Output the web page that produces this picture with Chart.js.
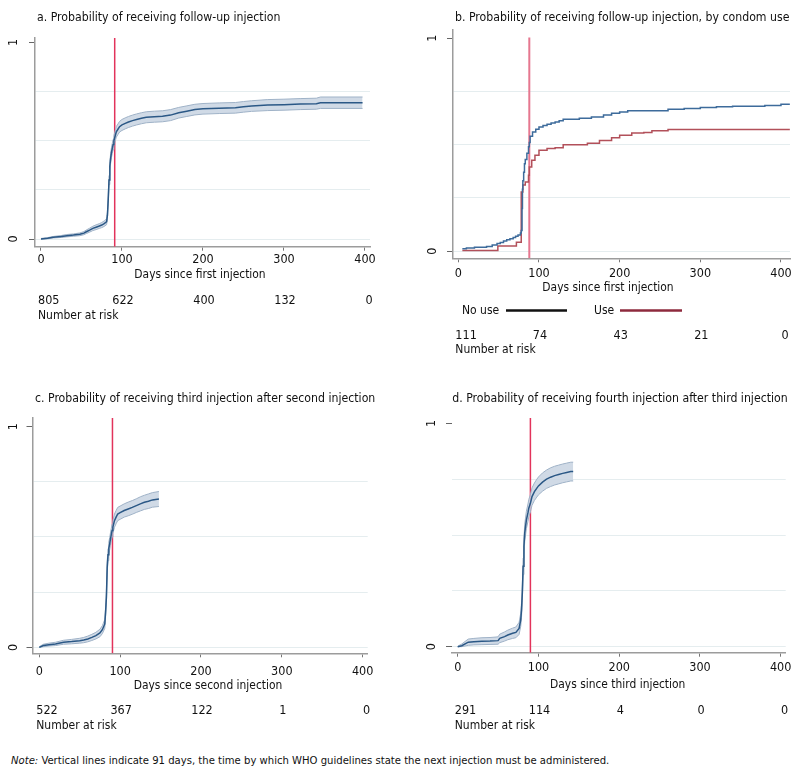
<!DOCTYPE html>
<html>
<head>
<meta charset="utf-8">
<script src="https://cdn.jsdelivr.net/npm/chart.js@4.4.1/dist/chart.umd.min.js"></script>
<style>
html,body{margin:0;padding:0;background:#fff;}
body{width:800px;height:779px;position:relative;overflow:hidden;font-family:'Liberation Sans Narrow','DejaVu Sans Condensed',sans-serif;}
canvas{position:absolute;}
#note{position:absolute;left:11px;top:754px;font-size:11.2px;color:#111;white-space:nowrap;line-height:14px;}
</style>
</head>
<body>
<canvas id="ca" width="400" height="330" style="left:0;top:0;width:400px;height:330px"></canvas>
<canvas id="cb" width="400" height="370" style="left:400px;top:0;width:400px;height:370px"></canvas>
<canvas id="cc" width="400" height="360" style="left:0;top:380px;width:400px;height:360px"></canvas>
<canvas id="cd" width="400" height="360" style="left:400px;top:380px;width:400px;height:360px"></canvas>
<div id="note"><i>Note:</i> Vertical lines indicate 91 days, the time by which WHO guidelines state the next injection must be administered.</div>
<script>
// ================= DATA =================
const xTicks = [0, 100, 200, 300, 400];
const yTicks = [0, 0.25, 0.5, 0.75, 1];
const yLabelValues = [0, 1];
const yLabelTexts = ['0', '1'];
const riskDays = [0, 100, 200, 300, 400];
const guideDays = [91, 88, 90.5, 90];

const panelTitles = [
  'a. Probability of receiving follow-up injection',
  'b. Probability of receiving follow-up injection, by condom use',
  'c. Probability of receiving third injection after second injection',
  'd. Probability of receiving fourth injection after third injection'
];
const axisTitles = [
  'Days since first injection',
  'Days since first injection',
  'Days since second injection',
  'Days since third injection'
];
const riskLabel = 'Number at risk';
const riskA = [805, 622, 400, 132, 0];
const riskB = [111, 74, 43, 21, 0];
const riskC = [522, 367, 122, 1, 0];
const riskD = [291, 114, 4, 0, 0];
const legendLabels = ['No use', 'Use'];

// Panel a
const daysA = [0, 8, 15, 25, 32, 40, 48, 53, 56, 60, 64, 68, 72, 75, 78, 81, 82, 83, 84, 85, 86, 87, 88, 89, 90, 91, 92, 93, 95, 97, 100, 104, 108, 113, 118, 124, 130, 140, 150, 160, 170, 180, 190, 200, 220, 240, 250, 260, 280, 300, 320, 340, 345, 397];
const estA = [0, 0.004, 0.009, 0.013, 0.017, 0.02, 0.024, 0.03, 0.037, 0.045, 0.054, 0.06, 0.066, 0.071, 0.078, 0.088, 0.12, 0.2, 0.3, 0.37, 0.41, 0.44, 0.46, 0.48, 0.5, 0.515, 0.53, 0.545, 0.558, 0.571, 0.58, 0.588, 0.595, 0.602, 0.608, 0.614, 0.619, 0.622, 0.624, 0.63, 0.642, 0.65, 0.658, 0.662, 0.665, 0.667, 0.672, 0.676, 0.681, 0.683, 0.686, 0.688, 0.693, 0.693];
const loA = [0, 0.001, 0.005, 0.008, 0.011, 0.014, 0.017, 0.022, 0.028, 0.035, 0.043, 0.048, 0.054, 0.058, 0.064, 0.073, 0.103, 0.18, 0.277, 0.346, 0.385, 0.415, 0.434, 0.454, 0.473, 0.488, 0.503, 0.518, 0.531, 0.544, 0.552, 0.56, 0.567, 0.574, 0.58, 0.586, 0.591, 0.594, 0.596, 0.602, 0.615, 0.623, 0.631, 0.635, 0.638, 0.64, 0.645, 0.649, 0.653, 0.655, 0.658, 0.66, 0.664, 0.664];
const hiA = [0.003, 0.007, 0.013, 0.018, 0.023, 0.026, 0.031, 0.038, 0.046, 0.055, 0.065, 0.072, 0.078, 0.084, 0.092, 0.103, 0.137, 0.22, 0.323, 0.394, 0.435, 0.465, 0.486, 0.506, 0.527, 0.542, 0.557, 0.572, 0.585, 0.598, 0.608, 0.616, 0.623, 0.63, 0.636, 0.642, 0.647, 0.65, 0.652, 0.658, 0.669, 0.677, 0.685, 0.689, 0.692, 0.694, 0.699, 0.703, 0.709, 0.711, 0.714, 0.716, 0.722, 0.722];

// Panel b
const daysBNo = [5, 10, 20, 35, 42, 48, 52, 56, 60, 64, 68, 71, 74, 77, 78, 79, 79.5, 80, 81, 82, 83, 85, 87, 88, 89, 92, 96, 100, 105, 110, 115, 120, 125, 130, 150, 165, 180, 190, 200, 210, 260, 280, 300, 320, 340, 380, 400, 411];
const estBNo = [0.011, 0.014, 0.018, 0.022, 0.028, 0.035, 0.04, 0.047, 0.053, 0.058, 0.064, 0.07, 0.075, 0.085, 0.097, 0.2, 0.29, 0.33, 0.37, 0.41, 0.43, 0.46, 0.49, 0.51, 0.54, 0.56, 0.572, 0.583, 0.59, 0.596, 0.602, 0.607, 0.613, 0.62, 0.624, 0.63, 0.64, 0.648, 0.654, 0.66, 0.666, 0.67, 0.675, 0.678, 0.681, 0.684, 0.69, 0.69];
const daysBUse = [5, 49, 72, 78, 80, 83, 87, 88, 91, 95, 100, 110, 120, 130, 160, 175, 190, 200, 215, 230, 240, 260, 411];
const estBUse = [0.003, 0.024, 0.042, 0.278, 0.31, 0.325, 0.356, 0.395, 0.427, 0.45, 0.474, 0.482, 0.485, 0.5, 0.507, 0.52, 0.533, 0.544, 0.555, 0.557, 0.565, 0.571, 0.571];

// Panel c
const daysC = [0, 5, 12, 20, 30, 40, 50, 55, 60, 65, 70, 75, 78, 81, 82, 83, 84, 85, 86, 87, 88, 89, 90, 91, 93, 95, 97, 100, 105, 110, 115, 120, 125, 130, 135, 140, 148];
const estC = [0, 0.008, 0.012, 0.015, 0.023, 0.026, 0.03, 0.033, 0.038, 0.045, 0.053, 0.065, 0.08, 0.106, 0.16, 0.227, 0.363, 0.42, 0.45, 0.468, 0.49, 0.51, 0.529, 0.545, 0.574, 0.59, 0.604, 0.61, 0.62, 0.627, 0.634, 0.642, 0.65, 0.657, 0.662, 0.668, 0.672];
const loC = [0, 0.003, 0.006, 0.008, 0.014, 0.016, 0.019, 0.021, 0.025, 0.031, 0.038, 0.048, 0.062, 0.086, 0.138, 0.203, 0.337, 0.393, 0.423, 0.44, 0.462, 0.482, 0.5, 0.516, 0.544, 0.56, 0.574, 0.58, 0.59, 0.596, 0.603, 0.611, 0.618, 0.625, 0.629, 0.635, 0.638];
const hiC = [0.003, 0.014, 0.019, 0.023, 0.032, 0.036, 0.041, 0.045, 0.051, 0.059, 0.068, 0.082, 0.098, 0.126, 0.182, 0.251, 0.389, 0.447, 0.477, 0.496, 0.518, 0.538, 0.558, 0.574, 0.604, 0.62, 0.634, 0.64, 0.65, 0.658, 0.665, 0.673, 0.682, 0.689, 0.695, 0.701, 0.706];

// Panel d
const daysD = [0, 5, 13, 20, 30, 40, 50, 52, 58, 62, 68, 72, 76, 78, 79, 80, 81, 82, 83, 85, 87, 88, 90, 92, 95, 98, 100, 105, 110, 115, 120, 125, 130, 135, 140, 143];
const estD = [0, 0.004, 0.02, 0.022, 0.024, 0.025, 0.027, 0.037, 0.045, 0.052, 0.06, 0.064, 0.082, 0.12, 0.164, 0.24, 0.36, 0.45, 0.51, 0.567, 0.6, 0.62, 0.642, 0.672, 0.694, 0.71, 0.72, 0.737, 0.75, 0.759, 0.766, 0.771, 0.776, 0.78, 0.784, 0.784];
const loD = [0, 0, 0.006, 0.008, 0.009, 0.01, 0.011, 0.018, 0.025, 0.031, 0.037, 0.04, 0.055, 0.09, 0.132, 0.205, 0.323, 0.412, 0.471, 0.528, 0.561, 0.581, 0.603, 0.633, 0.655, 0.67, 0.68, 0.696, 0.709, 0.717, 0.724, 0.729, 0.734, 0.738, 0.742, 0.742];
const hiD = [0.002, 0.012, 0.034, 0.037, 0.04, 0.041, 0.044, 0.056, 0.066, 0.074, 0.083, 0.088, 0.109, 0.15, 0.196, 0.275, 0.397, 0.488, 0.549, 0.606, 0.639, 0.659, 0.681, 0.711, 0.733, 0.75, 0.76, 0.778, 0.791, 0.801, 0.808, 0.813, 0.818, 0.822, 0.826, 0.826];

// ================= STYLE / LAYOUT =================
const FONT = "'Liberation Sans Narrow', 'DejaVu Sans Condensed', sans-serif";
const TXT = '#111';
const GRID = '#e5edef';
const AXIS = '#9c9c9c';
const MAIN = '#2b5886';
const EDGE = '#9fb2c7';
const BAND = 'rgba(200,212,226,0.85)';
const F_TITLE = 12.2, F_TICK = 12.5, F_AXT = 11.9, F_RISK = 12.5, F_RLAB = 12, F_LEG = 12;

const layouts = [
  {id:'ca', padR:30, padT:38, yW:35, xH:83.3, xMin:-7.4, xMax:406.2, yMin:-0.039, yMax:1.022, tickPad:2,
   titleX:37, titleY:21, axX:200, axY:278, riskY:303.5, riskLabY:319, yLabX:14, yBorder:true,
   vColor:'#e2335b', vWidth:1.5, vTop:1.022},
  {id:'cb', padR:10, padT:30, yW:53, xH:111.7, xMin:-6.6, xMax:411.2, yMin:-0.034, yMax:1.039, tickPad:4,
   titleX:55, titleY:21, axX:208, axY:291, riskY:339, riskLabY:353, yLabX:33, yBorder:true,
   vColor:'#e6778f', vWidth:2, vTop:1.004, legendY:314},
  {id:'cc', padR:32.3, padT:38, yW:32.5, xH:86.7, xMin:-8.4, xMax:406.2, yMin:-0.027, yMax:1.039, tickPad:7,
   titleX:35, titleY:21.7, axX:208, axY:309.3, riskY:334, riskLabY:349, yLabX:14, yBorder:true,
   vColor:'#e2335b', vWidth:1.5, vTop:1.039},
  {id:'cd', padR:14.3, padT:38, yW:52, xH:87.3, xMin:-7.1, xMax:406.2, yMin:-0.027, yMax:1.024, tickPad:4,
   titleX:52.3, titleY:21.7, axX:217.7, axY:308, riskY:334, riskLabY:349, yLabX:32, yBorder:false,
   vColor:'#e2335b', vWidth:1.5, vTop:1.024}
];

function pts(xs, ys){ return xs.map((x,i)=>({x:x, y:ys[i]})); }

function bandSets(days, est, lo, hi){
  return [
    {data:pts(days,est), borderColor:MAIN, borderWidth:1.5, pointRadius:0, fill:false},
    {data:pts(days,lo), borderColor:EDGE, borderWidth:1, pointRadius:0, fill:false},
    {data:pts(days,hi), borderColor:EDGE, borderWidth:1, pointRadius:0, fill:'-1', backgroundColor:BAND}
  ];
}

const textPlugin = {
  id:'panelText',
  afterDraw(chart, args, o){
    const ctx = chart.ctx, xs = chart.scales.x, ys = chart.scales.y, L = o.L;
    ctx.save();
    ctx.fillStyle = TXT;
    ctx.textBaseline = 'alphabetic';
    ctx.font = F_TITLE + 'px ' + FONT;
    ctx.textAlign = 'left';
    ctx.fillText(o.title, L.titleX, L.titleY);
    ctx.font = F_AXT + 'px ' + FONT;
    ctx.textAlign = 'center';
    ctx.fillText(o.axisTitle, L.axX, L.axY);
    // rotated y labels
    ctx.font = F_TICK + 'px ' + FONT;
    yLabelValues.forEach((v,i)=>{
      const y = ys.getPixelForValue(v);
      ctx.save();
      ctx.translate(L.yLabX, y);
      ctx.rotate(-Math.PI/2);
      ctx.textAlign = 'center';
      ctx.textBaseline = 'middle';
      ctx.fillText(yLabelTexts[i], 0, 0);
      ctx.restore();
    });
    // risk table
    ctx.font = F_RISK + 'px ' + FONT;
    o.risk.forEach((n,i)=>{
      const x = xs.getPixelForValue(riskDays[i]);
      if (i === 0){ ctx.textAlign='left'; ctx.fillText(String(n), x-3, L.riskY); }
      else if (i === o.risk.length-1){ ctx.textAlign='center'; ctx.fillText(String(n), x+4, L.riskY); }
      else { ctx.textAlign='center'; ctx.fillText(String(n), x+1, L.riskY); }
    });
    ctx.textAlign = 'left';
    ctx.font = F_RLAB + 'px ' + FONT;
    ctx.fillText(riskLabel, xs.getPixelForValue(riskDays[0])-3, L.riskLabY);
    // legend
    if (o.legend){
      ctx.font = F_LEG + 'px ' + FONT;
      const y = L.legendY;
      ctx.fillText(legendLabels[0], 62, y);
      ctx.fillText(legendLabels[1], 194, y);
      ctx.lineWidth = 2.5;
      ctx.strokeStyle = '#111';
      ctx.beginPath(); ctx.moveTo(106, y-3.5); ctx.lineTo(167, y-3.5); ctx.stroke();
      ctx.strokeStyle = '#8e2a3d';
      ctx.beginPath(); ctx.moveTo(220, y-3.5); ctx.lineTo(282, y-3.5); ctx.stroke();
    }
    ctx.restore();
  }
};

function makeChart(idx, datasets, risk, legend){
  const L = layouts[idx];
  datasets.push({data:[{x:guideDays[idx], y:L.yMin},{x:guideDays[idx], y:L.vTop}], borderColor:L.vColor, borderWidth:L.vWidth, pointRadius:0, fill:false});
  return new Chart(document.getElementById(L.id), {
    type:'line',
    data:{datasets:datasets},
    plugins:[textPlugin],
    options:{
      responsive:false, animation:false, devicePixelRatio:1,
      layout:{padding:{left:0, right:L.padR, top:L.padT, bottom:0}},
      plugins:{legend:{display:false}, tooltip:{enabled:false},
        panelText:{L:L, title:panelTitles[idx], axisTitle:axisTitles[idx], risk:risk, legend:legend}},
      scales:{
        x:{type:'linear', min:L.xMin, max:L.xMax,
           afterBuildTicks:(s)=>{ s.ticks = xTicks.map(v=>({value:v})); },
           afterFit:(s)=>{ s.height = L.xH; },
           border:{display:true, color:AXIS, width:1.5},
           grid:{drawOnChartArea:false, drawTicks:true, tickLength:4, tickColor:'#777', lineWidth:1},
           ticks:{color:TXT, font:{family:FONT, size:F_TICK}, padding:L.tickPad, maxRotation:0, autoSkip:false,
                  callback:(v)=>String(v)}},
        y:{type:'linear', min:L.yMin, max:L.yMax,
           afterBuildTicks:(s)=>{ s.ticks = yTicks.map(v=>({value:v})); },
           afterFit:(s)=>{ s.width = L.yW; },
           border:{display:L.yBorder, color:AXIS, width:1.5},
           grid:{drawTicks:true, tickLength:6, lineWidth:1,
                 color:(c)=> (c.tick && c.tick.value < 0.99) ? GRID : 'rgba(0,0,0,0)',
                 tickColor:(c)=> (c.tick && (c.tick.value === 0 || c.tick.value === 1)) ? '#666' : 'rgba(0,0,0,0)'},
           ticks:{display:false}}
      }
    }
  });
}

makeChart(0, bandSets(daysA, estA, loA, hiA), riskA, false);
makeChart(1, [
  {data:pts(daysBNo, estBNo), borderColor:'#3d6b9b', borderWidth:1.5, stepped:true, pointRadius:0, fill:false},
  {data:pts(daysBUse, estBUse), borderColor:'#b2505a', borderWidth:1.5, stepped:true, pointRadius:0, fill:false}
], riskB, true);
makeChart(2, bandSets(daysC, estC, loC, hiC), riskC, false);
makeChart(3, bandSets(daysD, estD, loD, hiD), riskD, false);
</script>
</body>
</html>
